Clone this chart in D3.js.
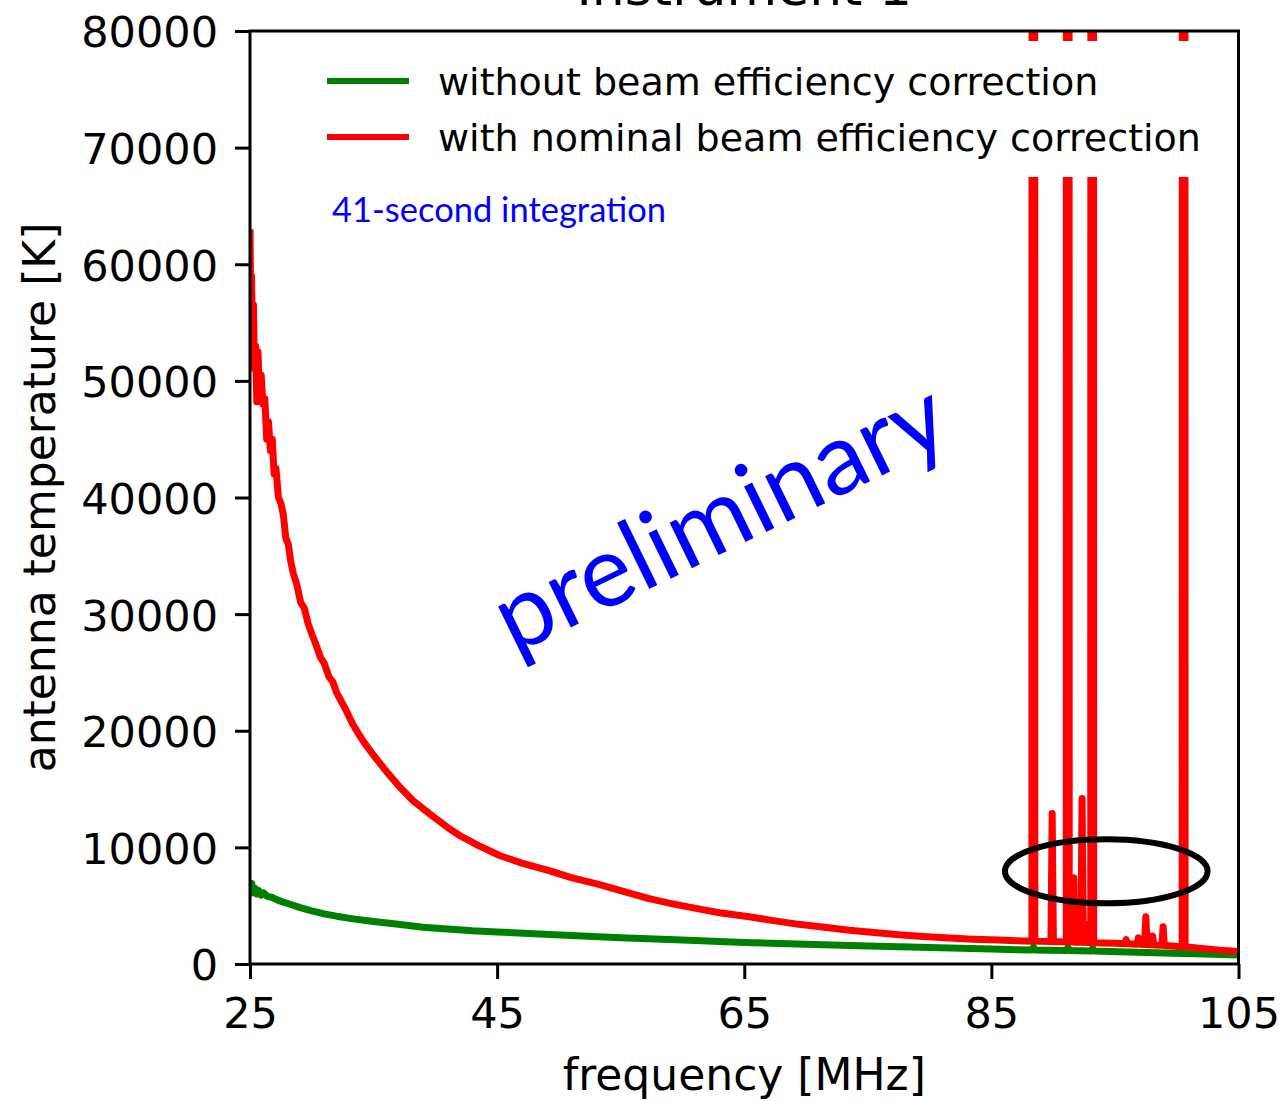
<!DOCTYPE html>
<html>
<head>
<meta charset="utf-8">
<script src="https://cdn.jsdelivr.net/npm/d3@7"></script>
<style>
  body { margin: 0; background: #fff; }
  text { font-family: "DejaVu Sans", sans-serif; }
</style>
</head>
<body>
<div class="chart"></div>
<script>
// values
const xTicks = [25, 45, 65, 85, 105];
const yTicks = [0, 10000, 20000, 30000, 40000, 50000, 60000, 70000, 80000];

// green: without beam efficiency correction
const greenFreq = [25.0, 25.08, 25.15, 25.25, 25.4, 25.55, 25.7, 25.9, 26.1, 26.4, 26.8, 27.2, 27.7, 28.3, 29.0, 30.0,
  31.0, 32.0, 33.5, 35.0, 37.0, 39.0, 41.0, 43.0, 45.0, 48.0, 51.0, 55.0, 60.0, 65.0, 70.0, 75.0, 80.0, 85.0,
  88.3, 88.4, 88.5, 91.1, 91.2, 91.3, 93.1, 93.2, 93.3, 96.0, 100.5, 100.6, 100.7, 103.0, 105.0];
const greenTemp = [7000, 6400, 6900, 6100, 6500, 6000, 6300, 5900, 6100, 5800, 5700, 5500, 5300, 5100, 4850, 4550,
  4300, 4100, 3850, 3650, 3400, 3150, 3000, 2850, 2750, 2600, 2450, 2250, 2050, 1850, 1700, 1550, 1420, 1280,
  1200, 1450, 1200, 1150, 1400, 1150, 1120, 1350, 1120, 1020, 900, 1050, 900, 830, 770];

// red: with nominal beam efficiency correction (spikes run off the top)
const redFreq = [25.0, 25.06, 25.12, 25.2, 25.28, 25.36, 25.45, 25.55, 25.65, 25.75, 25.9, 26.05, 26.2, 26.35, 26.5,
  26.65, 26.8, 26.95, 27.1, 27.3, 27.5, 27.7, 27.9, 28.1, 28.3, 28.5, 28.8, 29.1, 29.4, 29.7, 30.0, 30.3, 30.7,
  31.0, 31.4, 31.7, 32.0, 32.4, 32.8, 33.3, 33.8, 34.3, 35.0, 35.6, 36.2, 37.1, 38.2, 39.5, 41.0, 42.0, 43.5,
  45.2, 47.0, 49.2, 51.0, 53.3, 55.0, 57.3, 59.0, 61.4, 63.0, 65.4, 67.5, 69.4, 71.5, 73.5, 75.5, 77.5, 79.5,
  81.6, 83.5, 85.6, 87.0, 88.28, 88.4, 88.52, 89.0, 89.82, 89.92, 90.02, 90.6, 91.06, 91.18, 91.3, 91.45,
  91.58, 91.67, 91.76, 91.9, 92.0, 92.1, 92.24, 92.34, 92.44, 92.6, 92.7, 92.8, 93.04, 93.16, 93.28, 94.0,
  95.0, 95.8, 95.9, 96.0, 96.8, 96.9, 97.0, 97.4, 97.5, 97.6, 97.95, 98.05, 98.15, 98.8, 98.9, 99.0, 100.44,
  100.56, 100.68, 102.0, 103.5, 105.0];
const redTemp = [63000, 56000, 59000, 53500, 56500, 51000, 53000, 48200, 52500, 49000, 50500, 48000, 48500, 45000,
  46500, 44000, 45000, 42000, 42500, 40000, 39500, 38500, 36500, 36000, 34500, 33500, 32500, 31000, 30500, 29200,
  28300, 27500, 26300, 25800, 24600, 24200, 23300, 22500, 21700, 20600, 19700, 18900, 17900, 17100, 16300, 15200,
  14000, 12900, 11700, 11000, 10150, 9300, 8650, 8000, 7400, 6800, 6300, 5600, 5200, 4700, 4400, 4050, 3700,
  3400, 3150, 2900, 2700, 2500, 2350, 2220, 2120, 2050, 2000, 1960, 1000000, 1960, 1940, 1920, 12900, 1910, 1900,
  1890, 1000000, 1880, 2600, 1880, 7400, 1870, 3500, 1870, 1860, 1860, 14200, 1850, 3400, 1850, 1840, 1830,
  1000000, 1820, 1800, 1770, 1740, 2100, 1730, 1700, 2250, 1690, 1670, 4050, 1660, 1640, 2400, 1630, 1600,
  3200, 1590, 1480, 1000000, 1470, 1340, 1190, 1080];

const legendLabels = ["without beam efficiency correction", "with nominal beam efficiency correction"];
const lineColors = ["#008000", "#ff0000"];

// ellipse marking the small lines: centre in data units, radii in MHz / K
const ring = {f: 94.3, t: 7950, rf: 8.2, rt: 2750};

let margin = {top: 31, right: 45.5, bottom: 137, left: 250};
const width = 1284 - margin.left - margin.right;
const height = 1101 - margin.top - margin.bottom;

const svg = d3.select(".chart")
  .append("svg")
  .attr("width", 1284)
  .attr("height", 1101);

const g = svg.append("g")
  .attr("transform", "translate(" + margin.left + "," + margin.top + ")");

let xScale = d3.scaleLinear().domain([25, 105]).range([0, width]);
let yScale = d3.scaleLinear().domain([0, 80000]).range([height, 0]);

g.append("clipPath").attr("id", "plotclip")
  .append("rect").attr("width", width).attr("height", height);

const line = d3.line()
  .x(d => xScale(d[0]))
  .y(d => yScale(d[1]));

const greenData = greenFreq.map((f, i) => [f, greenTemp[i]]);
const redData = redFreq.map((f, i) => [f, redTemp[i]]);

const plot = g.append("g").attr("clip-path", "url(#plotclip)");
[greenData, redData].forEach((d, i) => {
  plot.append("path")
    .datum(d)
    .attr("d", line)
    .attr("fill", "none")
    .attr("stroke", lineColors[i])
    .attr("stroke-width", 7)
    .attr("stroke-linejoin", "round");
});

// legend sits on a white box that hides the spikes behind it
g.append("rect")
  .attr("x", 60).attr("y", 10)
  .attr("width", 905).attr("height", 136)
  .attr("fill", "#fff");

legendLabels.forEach((lab, i) => {
  let yy = 50 + i * 56;
  g.append("line")
    .attr("x1", 77).attr("x2", 159)
    .attr("y1", yy).attr("y2", yy)
    .attr("stroke", lineColors[i])
    .attr("stroke-width", 6);
  g.append("text")
    .attr("x", 188).attr("y", yy + 14)
    .attr("font-size", 38)
    .text(lab);
});

g.append("text")
  .attr("x", 82).attr("y", 191)
  .attr("fill", "#0000ff")
  .style("font-family", "Lato, sans-serif")
  .attr("font-size", 34.5)
  .text("41-second integration");

g.append("text")
  .attr("transform", "translate(264,624) rotate(-26)")
  .attr("fill", "#0000ff")
  .style("font-family", "Lato, sans-serif")
  .attr("font-size", 100)
  .text("preliminary");

g.append("ellipse")
  .attr("cx", xScale(ring.f))
  .attr("cy", yScale(ring.t))
  .attr("rx", xScale(ring.f + ring.rf) - xScale(ring.f))
  .attr("ry", yScale(0) - yScale(ring.rt))
  .attr("fill", "none")
  .attr("stroke", "#000")
  .attr("stroke-width", 6);

// axes
let xAxis = d3.axisBottom(xScale).tickValues(xTicks).tickSize(15).tickPadding(18.5);
let yAxis = d3.axisLeft(yScale).tickValues(yTicks).tickSize(15).tickPadding(17).tickFormat(d3.format("d"));

const gx = g.append("g").attr("transform", "translate(0," + height + ")").call(xAxis);
const gy = g.append("g").call(yAxis);
[gx, gy].forEach(a => {
  a.select(".domain").remove();
  a.selectAll("line").attr("stroke", "#000").attr("stroke-width", 3);
  a.selectAll("text").attr("font-size", 43).attr("fill", "#000")
    .style("font-family", "'DejaVu Sans', sans-serif");
});
gy.selectAll("text").attr("dy", "0.37em");

g.append("rect")
  .attr("width", width).attr("height", height)
  .attr("fill", "none")
  .attr("stroke", "#000")
  .attr("stroke-width", 3);

g.append("text")
  .attr("x", width / 2).attr("y", height + 126)
  .attr("text-anchor", "middle")
  .attr("font-size", 44)
  .text("frequency [MHz]");

g.append("text")
  .attr("transform", "translate(" + (55 - margin.left) + "," + height / 2 + ") rotate(-90)")
  .attr("text-anchor", "middle")
  .attr("font-size", 44)
  .text("antenna temperature [K]");

// title runs off the top edge, as in the original
g.append("text")
  .attr("x", width / 2).attr("y", 5 - margin.top)
  .attr("text-anchor", "middle")
  .attr("font-size", 52)
  .text("Instrument 1");
</script>
</body>
</html>
